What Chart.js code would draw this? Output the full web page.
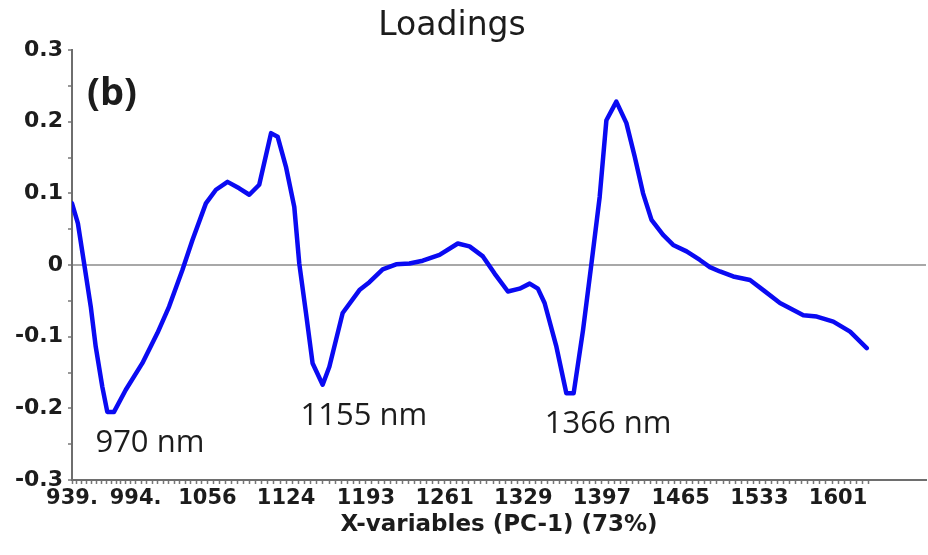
<!DOCTYPE html>
<html>
<head>
<meta charset="utf-8">
<title>Loadings</title>
<script src="https://cdn.jsdelivr.net/npm/chart.js@4/dist/chart.umd.min.js"></script>
<style>
  html, body { margin: 0; padding: 0; background: #ffffff; }
  #wrap { width: 928px; height: 555px; }
</style>
</head>
<body>
<div id="wrap"><canvas id="chart" width="928" height="555"></canvas></div>
<script>
// PC-1 loadings against wavelength (nm)
const wavelength = [
  939.0, 944.1, 949.2, 955.2, 959.5, 965.2, 969.5, 975.3, 985.5, 999.8,
  1012.8, 1022.9, 1034.4, 1043.1, 1054.7, 1063.4, 1073.4, 1083.5, 1092.2, 1100.8,
  1111.0, 1116.7, 1123.9, 1131.1, 1135.4, 1141.2, 1146.9, 1155.6, 1161.4, 1172.9,
  1187.4, 1196.0, 1207.5, 1219.1, 1230.6, 1242.1, 1256.6, 1272.4, 1282.5, 1294.1,
  1304.2, 1315.7, 1325.8, 1334.5, 1341.6, 1347.4, 1357.6, 1366.2, 1372.5, 1380.6,
  1387.9, 1395.0, 1400.8, 1409.4, 1418.1, 1425.3, 1432.5, 1439.8, 1449.8, 1458.5,
  1470.1, 1481.6, 1490.2, 1498.9, 1510.4, 1524.9, 1536.4, 1550.8, 1571.0, 1582.6,
  1596.9, 1611.4, 1625.8
];
const loadings = [
  0.086, 0.058, 0.005, -0.058, -0.114, -0.170, -0.205, -0.205, -0.174, -0.137,
  -0.095, -0.058, -0.007, 0.035, 0.086, 0.105, 0.116, 0.107, 0.098, 0.112,
  0.184, 0.179, 0.137, 0.081, 0.002, -0.067, -0.137, -0.167, -0.142, -0.067,
  -0.035, -0.024, -0.006, 0.001, 0.002, 0.006, 0.014, 0.030, 0.026, 0.012,
  -0.012, -0.037, -0.033, -0.026, -0.033, -0.053, -0.114, -0.179, -0.179, -0.091,
  0.002, 0.095, 0.202, 0.228, 0.198, 0.151, 0.100, 0.063, 0.042, 0.028,
  0.019, 0.007, -0.003, -0.009, -0.016, -0.021, -0.035, -0.053, -0.070, -0.072,
  -0.079, -0.093, -0.116
];

// labelled x-variables (wavelength and the text printed under it)
const tickValues = [939, 994, 1056, 1124, 1193, 1261, 1329, 1397, 1465, 1533, 1601];
const tickLabels = ['939.', '994.', '1056', '1124', '1193', '1261', '1329', '1397', '1465', '1533', '1601'];
const variablesPerLabel = 13;   // minor tick marks between two labels
const lastWavelength = 1629;    // last x-variable carrying a tick mark
const axisMin = 939, axisMax = 1677;

// assigned absorption bands, written under their troughs
const bandWavelengths = [970, 1155, 1366];
const bandLabels = ['970 nm', '1155 nm', '1366 nm'];

const TEXT = '#1c1c1c';
const AXIS = '#6e6e6e';

function troughValue(nm) {
  let best = 0;
  wavelength.forEach((w, i) => {
    if (Math.abs(w - nm) < Math.abs(wavelength[best] - nm)) best = i;
  });
  return loadings[best];
}

const textPlugin = {
  id: 'chartTexts',
  afterDraw(chart) {
    const { ctx, chartArea } = chart;
    const xs = chart.scales.x, ys = chart.scales.y;
    ctx.save();
    ctx.fillStyle = TEXT;

    ctx.font = '33px "DejaVu Sans"';
    ctx.textAlign = 'center';
    ctx.textBaseline = 'middle';
    ctx.fillText('Loadings', chart.width / 2 - 12, 26);

    ctx.font = 'bold 38px "Open Sans"';
    ctx.textAlign = 'left';
    ctx.textBaseline = 'alphabetic';
    ctx.fillText('(b)', chartArea.left + 15, 105);

    ctx.font = '31px "Open Sans"';
    ctx.textAlign = 'center';
    bandWavelengths.forEach((nm, i) => {
      const px = xs.getPixelForValue(nm);
      const py = ys.getPixelForValue(troughValue(nm));
      ctx.fillText(bandLabels[i], px + 42, py + 40);
    });
    ctx.restore();
  }
};

new Chart(document.getElementById('chart'), {
  type: 'line',
  data: {
    datasets: [{
      data: wavelength.map((w, i) => ({ x: w, y: loadings[i] })),
      borderColor: '#0a0af2',
      borderWidth: 4.5,
      pointRadius: 0,
      tension: 0,
      borderJoinStyle: 'round',
      borderCapStyle: 'round',
      fill: false
    }]
  },
  options: {
    responsive: false,
    animation: false,
    layout: { padding: { top: 50, right: 2, left: 0, bottom: 0 } },
    plugins: { legend: { display: false }, tooltip: { enabled: false }, title: { display: false } },
    scales: {
      x: {
        type: 'linear',
        min: axisMin,
        max: axisMax,
        afterFit(scale) { scale.height = 75; },
        afterBuildTicks(scale) {
          const ticks = [];
          for (let k = 0; k < tickValues.length - 1; k++) {
            const a = tickValues[k], b = tickValues[k + 1];
            for (let j = 0; j < variablesPerLabel; j++) {
              ticks.push({ value: a + (b - a) * j / variablesPerLabel, text: j === 0 ? tickLabels[k] : '' });
            }
          }
          const n = tickValues.length - 1;
          const step = (tickValues[n] - tickValues[n - 1]) / variablesPerLabel;
          for (let v = tickValues[n], j = 0; v <= lastWavelength; v += step, j++) {
            ticks.push({ value: v, text: j === 0 ? tickLabels[n] : '' });
          }
          scale.ticks = ticks;
        },
        border: { display: true, color: AXIS, width: 2 },
        grid: {
          drawOnChartArea: false,
          drawTicks: true,
          tickLength: 4,
          tickWidth: 1.5,
          tickColor: '#777777'
        },
        ticks: {
          autoSkip: false,
          maxRotation: 0,
          minRotation: 0,
          padding: 2,
          color: TEXT,
          font: { family: '"DejaVu Sans"', size: 21, weight: 'bold' },
          callback: (value, index, ticks) => ticks[index].text
        },
        title: {
          display: true,
          text: 'X-variables (PC-1) (73%)',
          color: TEXT,
          font: { family: '"DejaVu Sans"', size: 23, weight: 'bold' },
          padding: { top: 0, bottom: 16 }
        }
      },
      y: {
        min: -0.3,
        max: 0.3,
        afterFit(scale) { scale.width = 72; },
        border: { display: true, color: AXIS, width: 2 },
        grid: {
          drawTicks: true,
          tickLength: 4,
          tickWidth: 1.5,
          tickColor: '#777777',
          lineWidth: 2,
          color: (c) => (c.tick && Math.abs(c.tick.value) < 1e-9 ? '#a8a8a8' : 'rgba(0,0,0,0)')
        },
        ticks: {
          stepSize: 0.05,
          padding: 5,
          color: TEXT,
          font: { family: '"DejaVu Sans"', size: 22, weight: 'bold' },
          callback: (value) => {
            const h = Math.round(value * 100);
            if (h % 10 !== 0) return '';
            return h === 0 ? '0' : (h / 100).toFixed(1);
          }
        }
      }
    }
  },
  plugins: [textPlugin]
});
</script>
</body>
</html>
